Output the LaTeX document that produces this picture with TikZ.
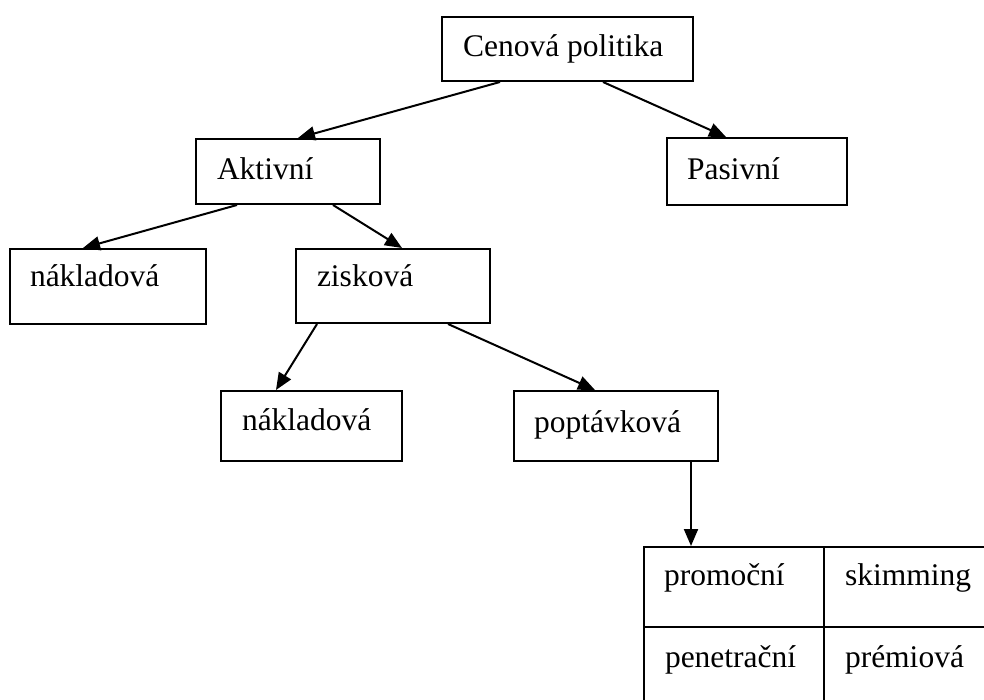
\documentclass[tikz,border=0pt]{standalone}
\usepackage{fontspec}
\setmainfont{Liberation Serif}
\usetikzlibrary{arrows.meta,calc}
\tikzset{every picture/.style={line width=2pt}}
\tikzset{
  box/.style={draw, rectangle, anchor=north west, inner sep=0pt, line width=2pt},
  lbl/.style={anchor=base west, inner sep=0pt, font=\fontsize{31.5}{38}\selectfont},
  arr/.style={-{Triangle[length=17pt,width=14pt]}, line width=2pt}
}
\begin{document}
\begin{tikzpicture}[x=1pt,y=1pt,yscale=-1,xscale=1]
\useasboundingbox[fill=white] (0,0) rectangle (984,700);

%Shape: Rectangle [Cenova politika]
\node[box, minimum width=251pt, minimum height=64pt] (cena) at (441,16) {};
%Shape: Rectangle [Aktivni]
\node[box, minimum width=184pt, minimum height=65pt] (aktiv) at (195,138) {};
%Shape: Rectangle [Pasivni]
\node[box, minimum width=180pt, minimum height=67pt] (pasiv) at (666,137) {};
%Shape: Rectangle [nakladova, left]
\node[box, minimum width=196pt, minimum height=75pt] (naklA) at (9,248) {};
%Shape: Rectangle [ziskova]
\node[box, minimum width=194pt, minimum height=74pt] (zisk) at (295,248) {};
%Shape: Rectangle [nakladova, middle]
\node[box, minimum width=181pt, minimum height=70pt] (naklB) at (220,390) {};
%Shape: Rectangle [poptavkova]
\node[box, minimum width=204pt, minimum height=70pt] (popt) at (513,390) {};
%Shape: Table cells
\node[box, minimum width=180pt, minimum height=80pt] (promo) at (643,546) {};
\node[box, minimum width=180pt, minimum height=80pt] (skim) at (823,546) {};
\node[box, minimum width=180pt, minimum height=94pt] (penet) at (643,626) {};
\node[box, minimum width=180pt, minimum height=94pt] (prem) at (823,626) {};

%Straight Lines
\draw[arr] ($(cena.south west)+(59,0)$) -- ($(aktiv.north west)+(103,0)$);
\draw[arr] ($(cena.south west)+(162,0)$) -- ($(pasiv.north west)+(60,0)$);
\draw[arr] ($(aktiv.south west)+(42,0)$) -- ($(naklA.north west)+(74,0)$);
\draw[arr] ($(aktiv.south west)+(138,0)$) -- ($(zisk.north west)+(107,0)$);
\draw[arr] ($(zisk.south west)+(22,0)$) -- ($(naklB.north west)+(56,0)$);
\draw[arr] ($(zisk.south west)+(153,0)$) -- ($(popt.north west)+(82,0)$);
\draw[arr] ($(popt.south west)+(178,0)$) -- ($(promo.north west)+(48,0)$);

% Text Node
\node[lbl] (cenaT) at ($(cena.north west)+(21,41)$) {Cenová politika};
% Text Node
\node[lbl] (aktivT) at ($(aktiv.north west)+(21,42)$) {Aktivní};
% Text Node
\node[lbl] (pasivT) at ($(pasiv.north west)+(20,43)$) {Pasivní};
% Text Node
\node[lbl] (naklAT) at ($(naklA.north west)+(20,39)$) {nákladová};
% Text Node
\node[lbl] (ziskT) at ($(zisk.north west)+(21,39)$) {zisková};
% Text Node
\node[lbl] (naklBT) at ($(naklB.north west)+(21,40)$) {nákladová};
% Text Node
\node[lbl] (poptT) at ($(popt.north west)+(20,42)$) {poptávková};
% Text Node
\node[lbl] (promoT) at ($(promo.north west)+(20,39)$) {promoční};
% Text Node
\node[lbl] (skimT) at ($(skim.north west)+(21,39)$) {skimming};
% Text Node
\node[lbl] (penetT) at ($(penet.north west)+(21,41)$) {penetrační};
% Text Node
\node[lbl] (premT) at ($(prem.north west)+(21,41)$) {prémiová};

\end{tikzpicture}
\end{document}
